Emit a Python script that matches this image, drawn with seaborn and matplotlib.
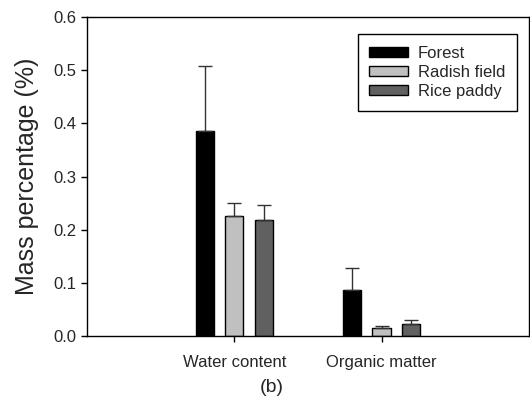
import matplotlib
matplotlib.use("Agg")
import matplotlib.pyplot as plt
import seaborn as sns
import pandas as pd
import numpy as np

categories = ["Water content", "Organic matter"]
sites = ["Forest", "Radish field", "Rice paddy"]
forest = [0.386, 0.0865]
radish = [0.225, 0.016]
rice = [0.219, 0.022]
forest_err = [0.122, 0.042]
radish_err = [0.025, 0.003]
rice_err = [0.027, 0.0075]
colors = ["#000000", "#c0c0c0", "#606060"]

sns.set_style("white")
plt.rcParams["font.family"] = ["Liberation Sans", "DejaVu Sans"]

df = pd.DataFrame({
    "category": categories * 3,
    "site": [s for s in sites for _ in categories],
    "value": forest + radish + rice,
})
errs = {"Forest": forest_err, "Radish field": radish_err, "Rice paddy": rice_err}

fig = plt.figure(figsize=(5.30, 4.01), dpi=100)
ax = fig.add_axes([0.164, 0.162, 0.834, 0.7956])

sns.barplot(data=df, x="category", y="value", hue="site", order=categories,
            hue_order=sites, palette=colors, width=0.6, gap=0.38,
            errorbar=None, edgecolor="black", linewidth=1, ax=ax, saturation=1)

for cont, site in zip(ax.containers, sites):
    xs = [p.get_x() + p.get_width() / 2 for p in cont.patches]
    hs = [p.get_height() for p in cont.patches]
    e = errs[site]
    ax.errorbar(xs, hs, yerr=[np.zeros(len(e)), e], fmt="none",
                ecolor="#333333", elinewidth=1, capsize=5, capthick=1, zorder=1)

ax.set_xlim(-1, 2)
ax.set_ylim(0, 0.6)
ax.set_yticks(np.arange(0, 0.61, 0.1))
ax.set_yticklabels([f"{v:.1f}" for v in np.arange(0, 0.61, 0.1)])
ax.set_xlabel("")
ax.set_ylabel("Mass percentage (%)", fontsize=18, labelpad=10)
ax.tick_params(axis="both", labelsize=12, direction="out", length=4, width=1,
               color="black", bottom=True, left=True)
ax.tick_params(axis="x", pad=10)
for s in ax.spines.values():
    s.set_color("black")
    s.set_linewidth(1)

leg = ax.legend(loc="upper right", bbox_to_anchor=(0.972, 0.947), fontsize=12,
                frameon=True, fancybox=False, edgecolor="black",
                handlelength=2.3, handleheight=0.55, borderpad=0.7,
                labelspacing=0.25, handletextpad=0.6, borderaxespad=0)
leg.get_frame().set_linewidth(1)
leg.get_frame().set_alpha(1)

fig.text(0.513, 0.033, "(b)", fontsize=14, ha="center", va="center")

fig.savefig("out.png", dpi=100)
